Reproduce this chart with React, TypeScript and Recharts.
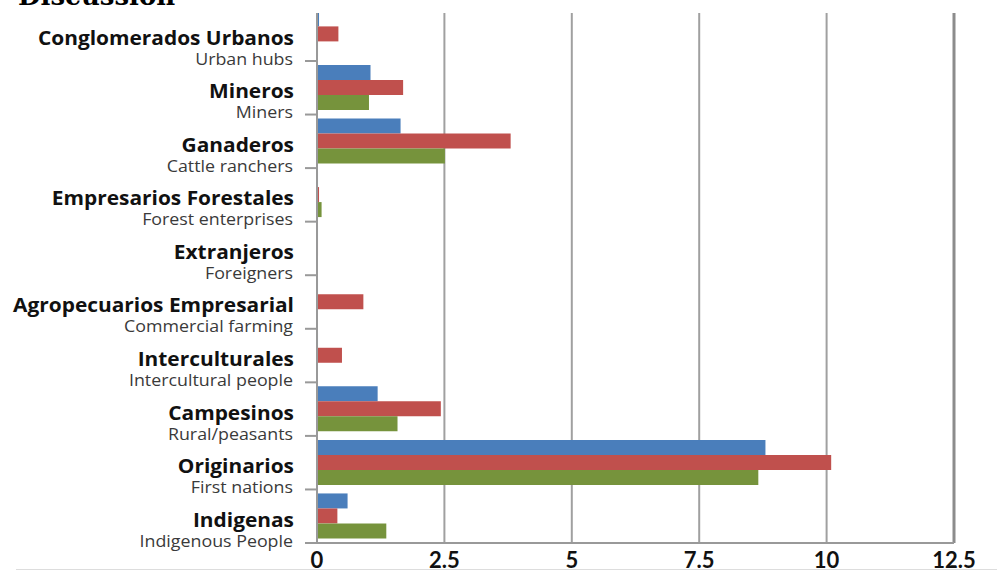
import React from "react";
import {
  Bar,
  BarChart,
  CartesianGrid,
  ReferenceLine,
  XAxis,
  YAxis,
} from "recharts";

const categories = [
  "Conglomerados Urbanos",
  "Mineros",
  "Ganaderos",
  "Empresarios Forestales",
  "Extranjeros",
  "Agropecuarios Empresarial",
  "Interculturales",
  "Campesinos",
  "Originarios",
  "Indigenas",
];

const subtitles = [
  "Urban hubs",
  "Miners",
  "Cattle ranchers",
  "Forest enterprises",
  "Foreigners",
  "Commercial farming",
  "Intercultural people",
  "Rural/peasants",
  "First nations",
  "Indigenous People",
];

const blueValues = [0.04, 1.05, 1.64, 0.02, 0.02, 0.02, 0.02, 1.19, 8.8, 0.6];
const redValues = [0.42, 1.69, 3.8, 0.04, 0.02, 0.91, 0.49, 2.43, 10.09, 0.4];
const greenValues = [0.02, 1.02, 2.51, 0.09, 0.01, 0.01, 0.01, 1.58, 8.66, 1.36];

const xTicks = [0, 2.5, 5, 7.5, 10, 12.5];

const data = categories.map((name, i) => ({
  name,
  sub: subtitles[i],
  blue: blueValues[i],
  red: redValues[i],
  green: greenValues[i],
}));

const LABEL_FONT = "'Open Sans', 'Noto Sans', sans-serif";
const TICK_FONT = "Lato, 'Open Sans', sans-serif";

function CategoryTick(props: any) {
  const { x, y, payload, index } = props;
  const sub = subtitles[index] ?? "";
  return (
    <g>
      <text
        transform={`translate(${x - 23},${y + 10.5}) scale(1.045,1)`}
        textAnchor="end"
        fontFamily={LABEL_FONT}
        fontWeight={700}
        fontSize={20}
        fill="#111"
      >
        {payload.value}
      </text>
      <text
        transform={`translate(${x - 24},${y + 30.5}) scale(1.15,1)`}
        textAnchor="end"
        fontFamily={LABEL_FONT}
        fontSize={15.5}
        fill="#3a3a3a"
      >
        {sub}
      </text>
      <line x1={x - 12} x2={x} y1={y + 26.8} y2={y + 26.8} stroke="#999" strokeWidth={2} />
    </g>
  );
}

function ValueTick(props: any) {
  const { x, y, payload } = props;
  return (
    <text
      x={x}
      y={y + 25}
      textAnchor="middle"
      fontFamily={TICK_FONT}
      fontWeight={700}
      fontSize={22}
      fill="#111"
    >
      {payload.value}
    </text>
  );
}

export default function App() {
  return (
    <div style={{ position: "fixed", left: 0, top: 0, width: 997, height: 572, background: "#fff", overflow: "hidden" }}>
      <div style={{ position: "absolute", left: 0, top: 0 }}>
        <BarChart
          width={997}
          height={572}
          data={data}
          layout="vertical"
          margin={{ top: 7.4, right: 43, bottom: 0, left: 0 }}
          barCategoryGap={4}
          barGap={0}
        >
          <CartesianGrid horizontal={false} stroke="#a0a0a0" strokeWidth={2} />
          <XAxis
            type="number"
            domain={[0, 12.5]}
            ticks={xTicks}
            height={29}
            tickLine={false}
            tickSize={0}
            tickMargin={0}
            axisLine={{ stroke: "#999", strokeWidth: 2 }}
            tick={<ValueTick />}
            interval={0}
          />
          <YAxis
            type="category"
            dataKey="name"
            width={317}
            tickLine={false}
            tickSize={0}
            tickMargin={0}
            axisLine={{ stroke: "#999", strokeWidth: 2 }}
            tick={<CategoryTick />}
            interval={0}
          />
          <Bar dataKey="blue" fill="#4a7ebb" isAnimationActive={false} />
          <Bar dataKey="red" fill="#c0504d" isAnimationActive={false} />
          <Bar dataKey="green" fill="#76933c" isAnimationActive={false} />
          <ReferenceLine x={12.5} stroke="#8c8c8c" strokeWidth={3} />
        </BarChart>
      </div>
      <svg width={997} height={572} style={{ position: "absolute", left: 0, top: 0, pointerEvents: "none" }}>
        <rect x={0} y={0} width={997} height={13} fill="#fff" />
        <text x={18} y={5} fontFamily="'DejaVu Serif', serif" fontWeight={700} fontSize={26} fill="#000">
          Discussion
        </text>
        <line x1={16} x2={997} y1={569.5} y2={569.5} stroke="#ddd" strokeWidth={1} />
      </svg>
    </div>
  );
}
